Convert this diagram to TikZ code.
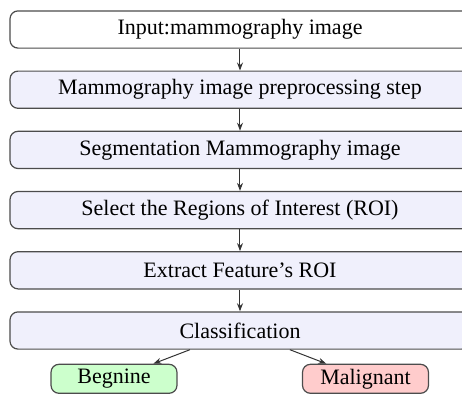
\documentclass[tikz,border=0pt]{standalone}
\usepackage{fontspec}
\setmainfont{Liberation Serif}
\usepackage{xcolor}
\usetikzlibrary{positioning,arrows.meta}
\definecolor{stp}{HTML}{F0F0FC}
\definecolor{bgn}{HTML}{CCFFCC}
\definecolor{mlg}{HTML}{FFCCCC}
\tikzset{
  stepbox/.style={draw=black!70, line width=0.6pt, rounded corners=4pt, fill=stp,
    minimum width=230pt, minimum height=18.6pt, inner sep=2pt, align=center},
  leafbox/.style={draw=black!70, line width=0.6pt, rounded corners=4pt,
    minimum width=63pt, minimum height=14.5pt, inner sep=2pt},
  flow/.style={-{Stealth[length=4pt, width=3pt]}, line width=0.5pt, black!80}}

\begin{document}
\begin{tikzpicture}[font=\fontsize{11}{13}\selectfont, node distance=10.9pt]
\useasboundingbox (0,0) rectangle (231pt,-201.5pt);
\clip (0,0) rectangle (231pt,-201.5pt);
\node[stepbox, fill=white] (inp) at (120pt,-14.75pt) {Input:mammography image};
\node[stepbox, below=of inp] (pre) {Mammography image preprocessing step};
\node[stepbox, below=of pre] (seg) {Segmentation Mammography image};
\node[stepbox, below=of seg] (roi) {Select the Regions of Interest (ROI)};
\node[stepbox, below=of roi] (fea) {Extract Feature's ROI};
\node[stepbox, below=of fea] (cls) {Classification};
\node[leafbox, fill=bgn, below=7pt of cls, xshift=-63pt] (beg) {Begnine};
\node[leafbox, fill=mlg, below=7pt of cls, xshift=62.75pt] (mal) {Malignant};
\foreach \a/\b in {inp/pre, pre/seg, seg/roi, roi/fea, fea/cls}
  \draw[flow] (\a) -- (\b);
\draw[flow] (cls) -- (beg);
\draw[flow] (cls) -- (mal);
\end{tikzpicture}
\end{document}
